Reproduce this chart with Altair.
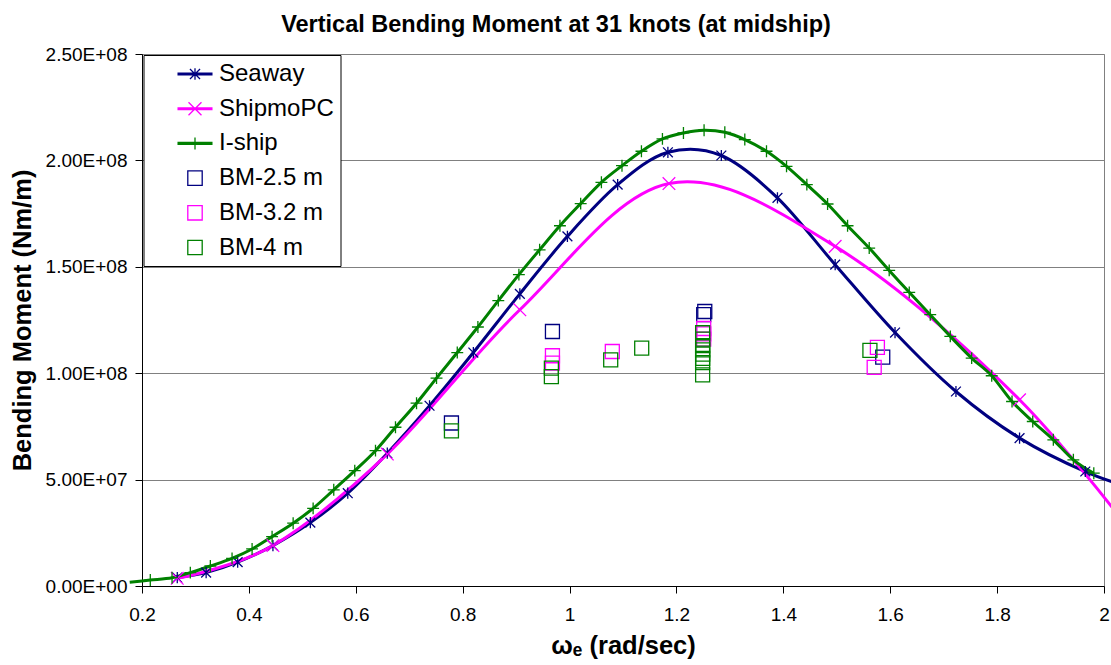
import altair as alt
import pandas as pd

# ---------------- data ----------------
seaway_x = [0.266, 0.320, 0.379, 0.445, 0.515, 0.585, 0.659, 0.738, 0.820, 0.907,
            0.996, 1.090, 1.184, 1.284, 1.389, 1.497, 1.609, 1.723, 1.842, 1.965, 2.089]
seaway_y = [3.9e6, 6.3e6, 1.12e7, 1.90e7, 2.98e7, 4.36e7, 6.24e7, 8.47e7, 1.097e8, 1.373e8,
            1.643e8, 1.886e8, 2.038e8, 2.023e8, 1.824e8, 1.510e8, 1.191e8, 9.14e7, 6.95e7, 5.38e7, 4.28e7]

shipmo_x = [0.266, 0.445, 0.659, 0.907, 1.186, 1.497, 1.842, 2.13]
shipmo_y = [3.6e6, 1.90e7, 6.20e7, 1.298e8, 1.891e8, 1.596e8, 8.75e7, 0.0]

iship_x = [0.177, 0.2155, 0.2562, 0.2904, 0.3279, 0.3685, 0.406, 0.4434, 0.4828, 0.5202,
           0.5588, 0.5981, 0.6369, 0.6743, 0.7137, 0.7511, 0.7899, 0.8285, 0.8667, 0.9052,
           0.944, 0.982, 1.0208, 1.0596, 1.0981, 1.1345, 1.1738, 1.2131, 1.2517, 1.2905,
           1.3279, 1.3685, 1.406, 1.444, 1.4828, 1.5202, 1.5607, 1.5981, 1.6356, 1.6749,
           1.7124, 1.7524, 1.7899, 1.8279, 1.8667, 1.9052, 1.9427, 1.9809]
iship_y = [1.8e6, 2.8e6, 3.9e6, 6.3e6, 9.4e6, 1.30e7, 1.74e7, 2.32e7, 2.95e7, 3.65e7,
           4.52e7, 5.42e7, 6.36e7, 7.46e7, 8.59e7, 9.77e7, 1.097e8, 1.217e8, 1.341e8, 1.463e8,
           1.580e8, 1.693e8, 1.797e8, 1.897e8, 1.975e8, 2.043e8, 2.101e8, 2.129e8, 2.142e8, 2.132e8,
           2.098e8, 2.043e8, 1.972e8, 1.886e8, 1.795e8, 1.693e8, 1.588e8, 1.483e8, 1.380e8, 1.275e8,
           1.173e8, 1.071e8, 9.88e7, 8.67e7, 7.73e7, 6.87e7, 5.93e7, 5.30e7]

bm25_x = [0.779, 0.968, 1.251, 1.253, 1.586]
bm25_y = [7.66e7, 1.196e8, 1.275e8, 1.290e8, 1.076e8]

bm32_x = [0.968, 0.968, 1.080, 1.251, 1.251, 1.251, 1.570, 1.576]
bm32_y = [1.082e8, 1.047e8, 1.102e8, 1.210e8, 1.185e8, 1.160e8, 1.027e8, 1.121e8]

bm4_x = [0.779, 0.966, 0.966, 1.077, 1.135, 1.249, 1.249, 1.249, 1.249, 1.249, 1.249, 1.249, 1.249, 1.562]
bm4_y = [7.29e7, 1.024e8, 9.84e7, 1.063e8, 1.118e8, 1.190e8, 1.160e8, 1.130e8, 1.110e8, 1.090e8,
         1.070e8, 1.050e8, 9.92e7, 1.107e8]

series_names = ["Seaway", "ShipmoPC", "I-ship", "BM-2.5 m", "BM-3.2 m", "BM-4 m"]
line_names = ["Seaway", "ShipmoPC", "I-ship"]
series_colors = ["#000080", "#FF00FF", "#008000", "#000080", "#FF00FF", "#008000"]

x_ticks = [0.2, 0.4, 0.6, 0.8, 1.0, 1.2, 1.4, 1.6, 1.8, 2.0]
y_ticks = [0, 5e7, 1e8, 1.5e8, 2e8, 2.5e8]

# ---------------- marker shapes ----------------
ASTER = "M-0.7,-0.7L0.7,0.7M-0.7,0.7L0.7,-0.7M0,-0.8V0.8"
CROSS = "M-0.9,-0.9L0.9,0.9M-0.9,0.9L0.9,-0.9"
PLUS = "M-0.85,0H0.85M0,-0.85V0.85"
SQUARE = "M-1,-1H1V1H-1Z"
marker_paths = [ASTER, CROSS, PLUS, SQUARE, SQUARE, SQUARE]

STUB = "M-1.46,-0.075H1.46M-1.46,0H1.46M-1.46,0.075H1.46"
LEG_ASTER = STUB + "M-0.42,-0.42L0.42,0.42M-0.42,0.42L0.42,-0.42M0,-0.48V0.48"
LEG_CROSS = STUB + "M-0.54,-0.54L0.54,0.54M-0.54,0.54L0.54,-0.54"
LEG_PLUS = STUB + "M0,-0.5V0.5"
LEG_SQ = "M-0.6,-0.6H0.6V0.6H-0.6Z"
legend_paths = [LEG_ASTER, LEG_CROSS, LEG_PLUS, LEG_SQ, LEG_SQ, LEG_SQ]

# ---------------- table ----------------
rows = []
for name, xs, ys in [("Seaway", seaway_x, seaway_y), ("ShipmoPC", shipmo_x, shipmo_y),
                     ("I-ship", iship_x, iship_y), ("BM-2.5 m", bm25_x, bm25_y),
                     ("BM-3.2 m", bm32_x, bm32_y), ("BM-4 m", bm4_x, bm4_y)]:
    for i, (xv, yv) in enumerate(zip(xs, ys)):
        rows.append({"series": name, "x": xv, "y": yv, "i": i})
df = pd.DataFrame(rows)

FONT = "Liberation Sans"

xenc = alt.X("x:Q",
             scale=alt.Scale(domain=[0.2, 2.0], nice=False, zero=False),
             axis=alt.Axis(values=x_ticks, labelExpr="format(datum.value, '~g')",
                           title="ωₑ (rad/sec)", grid=False,
                           labelFontSize=19, labelPadding=12, tickSize=7,
                           titleFontSize=25.5, titleFontWeight="bold", titlePadding=9,
                           domainColor="black", tickColor="black",
                           labelColor="black", titleColor="black", labelFlush=False))
yenc = alt.Y("y:Q",
             scale=alt.Scale(domain=[0, 2.5e8], nice=False, zero=True),
             axis=alt.Axis(values=y_ticks,
                           labelExpr="replace(format(datum.value, '.2e'), 'e+', 'E+0')",
                           title="Bending Moment (Nm/m)", grid=True, gridColor="#808080",
                           gridWidth=1, gridOpacity=1,
                           labelFontSize=19, labelPadding=8, tickSize=7,
                           titleFontSize=25.5, titleFontWeight="bold", titlePadding=10,
                           domainColor="black", tickColor="black",
                           labelColor="black", titleColor="black", labelFlush=False))

color_scale = alt.Scale(domain=series_names, range=series_colors)

base = alt.Chart(df)

# legend-only layer (draws no marks, only the legend)
leg = alt.Legend(
    orient="none", legendX=1.5, legendY=1, title=None,
    fillColor="white", strokeColor="black",
    padding=6, symbolSize=576, symbolStrokeWidth=1.3,
    symbolOffset=32.5, labelOffset=11,
    labelFont=FONT, labelFontSize=24, labelColor="black",
    rowPadding=9.7, labelLimit=400,
)
legend_layer = base.transform_filter("false").mark_point(
    filled=False, strokeWidth=1.3, opacity=1
).encode(
    x=xenc, y=yenc,
    color=alt.Color("series:N", scale=color_scale, legend=leg),
    shape=alt.Shape("series:N", scale=alt.Scale(domain=series_names, range=legend_paths),
                    legend=leg),
)

lines = base.transform_filter(
    alt.FieldOneOfPredicate(field="series", oneOf=line_names)
).mark_line(interpolate="cardinal", tension=0, strokeWidth=3, clip=False).encode(
    x=xenc, y=yenc,
    color=alt.Color("series:N", scale=color_scale),
    detail="series:N",
    order="i:Q",
)

marker_layers = []
for name, path in zip(series_names, marker_paths):
    marker_layers.append(
        base.transform_filter(alt.datum.series == name).mark_point(
            shape=path, filled=False, size=196, strokeWidth=1.3, opacity=1, clip=True
        ).encode(
            x=xenc, y=yenc,
            color=alt.Color("series:N", scale=color_scale),
        )
    )

chart = alt.layer(legend_layer, lines, *marker_layers).properties(
    width=962, height=532,
    autosize=alt.AutoSizeParams(type="none"),
    padding={"left": 142, "top": 54, "right": 7, "bottom": 79},
    title=alt.TitleParams(
        text="Vertical Bending Moment at 31 knots (at midship)",
        font=FONT, fontSize=23.5, fontWeight="bold", color="black",
        anchor="middle", frame="group", dx=-67, offset=9,
    ),
).configure(
    font=FONT, background="white"
).configure_view(
    stroke="#808080", strokeWidth=1
).configure_axis(
    labelFont=FONT, titleFont=FONT
)

chart.save("out.html", embed_options={"renderer": "svg", "actions": False})
